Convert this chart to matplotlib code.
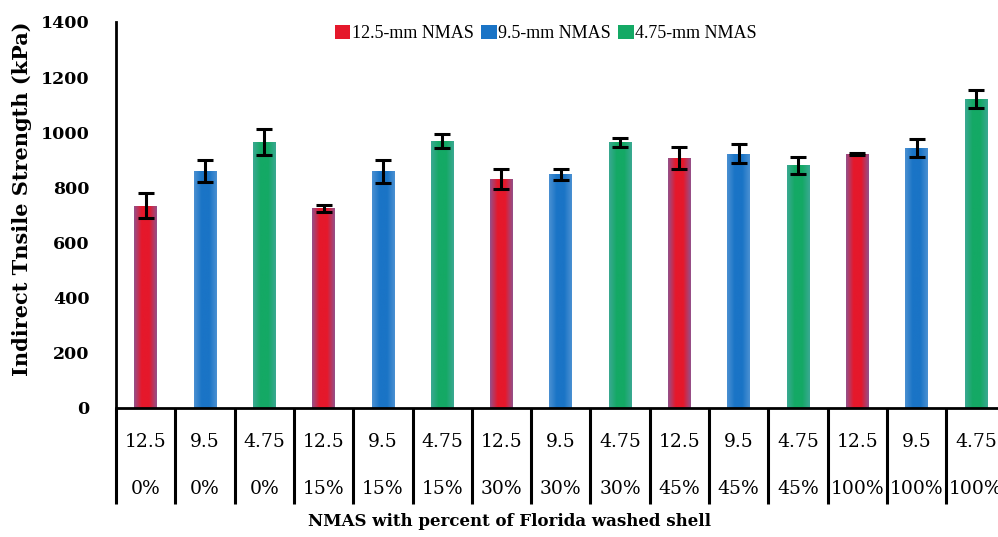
import numpy as np
import matplotlib
matplotlib.use('Agg')
import matplotlib.pyplot as plt
from matplotlib.colors import LinearSegmentedColormap
from matplotlib.patches import Patch
from matplotlib.transforms import blended_transform_factory

# data
nmas = ['12.5', '9.5', '4.75'] * 5
shell = ['0%'] * 3 + ['15%'] * 3 + ['30%'] * 3 + ['45%'] * 3 + ['100%'] * 3
its = [733, 860, 966, 725, 858, 968, 830, 847, 963, 907, 922, 880, 921, 943, 1122]
err = [45, 40, 47, 13, 43, 24, 36, 19, 16, 40, 35, 32, 5, 31, 33]
series = ['12.5-mm NMAS', '9.5-mm NMAS', '4.75-mm NMAS']

# center / edge colours for each series (bars are shaded)
centers = ['#e5182b', '#1a74c6', '#14a965']
edges = ['#94508a', '#4a90d2', '#3aa892']

fig = plt.figure(figsize=(9.98, 5.37), dpi=100)
ax = fig.add_axes([116 / 998, 129 / 537, 889.5 / 998, 386 / 537])

x = np.arange(len(its))
w = 0.38
bars = ax.bar(x, its, width=w, color=[centers[i % 3] for i in x], zorder=2)

# horizontal gradient in each bar
for i, b in enumerate(bars):
    cm = LinearSegmentedColormap.from_list('g', [edges[i % 3], centers[i % 3], centers[i % 3], edges[i % 3]])
    grad = np.linspace(0, 1, 64).reshape(1, -1)
    im = ax.imshow(grad, cmap=cm, aspect='auto', zorder=2,
                   extent=[b.get_x(), b.get_x() + b.get_width(), 0, b.get_height()])
    im.set_clip_path(b)

ax.errorbar(x, its, yerr=err, fmt='none', ecolor='black', elinewidth=2.2,
            capsize=5.5, capthick=2.2, zorder=3)

ax.set_xlim(-0.5, 14.5)
ax.set_ylim(0, 1400)
ax.set_yticks(range(0, 1401, 200))
ax.tick_params(axis='y', length=0, pad=19)
for t in ax.get_yticklabels():
    t.set_fontfamily('DejaVu Serif')
    t.set_fontweight('bold')
    t.set_fontsize(12.5)

# category boundaries as long ticks
ax.set_xticks(np.arange(-0.5, 15, 1))
ax.set_xticklabels([])
ax.tick_params(axis='x', length=69, width=2.2, direction='out', color='black')

for s in ['top', 'right']:
    ax.spines[s].set_visible(False)
for s in ['left', 'bottom']:
    ax.spines[s].set_linewidth(2)

trans = blended_transform_factory(ax.transData, ax.transAxes)
for i in x:
    ax.text(i, -0.088, nmas[i], transform=trans, ha='center', va='center',
            fontsize=13.5, family='DejaVu Serif')
    ax.text(i, -0.21, shell[i], transform=trans, ha='center', va='center',
            fontsize=13.5, family='DejaVu Serif')

fig.text(510 / 998, 1 - 522 / 537, 'NMAS with percent of Florida washed shell',
         ha='center', va='center', fontsize=12, fontweight='bold', family='DejaVu Serif')
fig.text(22 / 998, 1 - 199 / 537, 'Indirect Tnsile Strength (kPa)', rotation=90,
         ha='center', va='center', fontsize=15, fontweight='bold', family='DejaVu Serif')

handles = [Patch(facecolor=centers[k], edgecolor='none') for k in range(3)]
ax.legend(handles, series, loc='upper center', bbox_to_anchor=((546 - 116) / 889.5, 1.035),
          ncol=3, frameon=False, handlelength=0.85, handleheight=0.85, handletextpad=0.1,
          columnspacing=0.4, prop={'family': 'Liberation Serif', 'size': 13})

fig.savefig('out.png', dpi=100)
